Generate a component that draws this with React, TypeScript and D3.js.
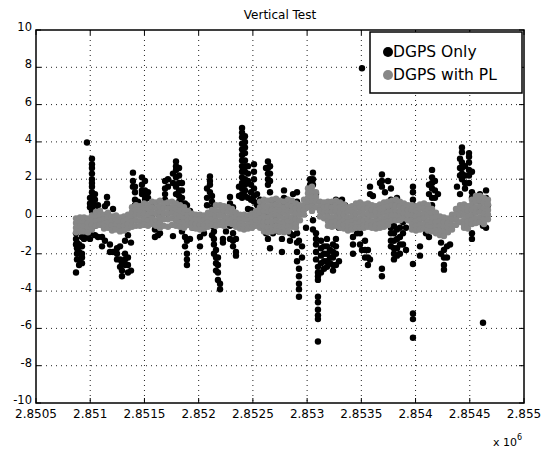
import React from "react";
import * as d3 from "d3";

// GPS time (s) tick values and their printed labels (x 10^6)
const xTickValues = [2850500, 2851000, 2851500, 2852000, 2852500, 2853000, 2853500, 2854000, 2854500, 2855000];
const xTickLabels = ["2.8505", "2.851", "2.8515", "2.852", "2.8525", "2.853", "2.8535", "2.854", "2.8545", "2.855"];
const yTickValues = [-10, -8, -6, -4, -2, 0, 2, 4, 6, 8, 10];

const seriesNames = ["DGPS Only", "DGPS with PL"];

// DGPS Only: [time, vertical errors (m) read at that time...]
const dgpsOnly: number[][] = [
  [2850869, -0.9, -1.2, -1.5, -3.0],
  [2850878, -1.4, -1.7, -2.0, -2.3],
  [2850897, -0.6, -1.5, -1.9, -2.3, -2.6],
  [2850924, -1.1, -1.6, -2.0, -2.2, -2.5],
  [2850943, -0.8, -1.2],
  [2850970, 3.97, -0.4, -1.0],
  [2850998, 1.0, 0.7, 0.5, -0.9, -1.2],
  [2851016, 3.1, 2.8, 2.6, 2.3, 2.0, 1.8, 1.6, 1.3, 1.05, 0.8, 0.5, 0.3],
  [2851044, 1.2, 0.9, 0.6, 0.2, -0.5, -1.0],
  [2851072, 0.6, 0.3, -0.2, -1.1],
  [2851109, -1.1, -1.6],
  [2851136, 0.55, -1.3],
  [2851155, 1.05, 0.7],
  [2851182, -1.9, -1.5],
  [2851210, 0.4, -1.9],
  [2851247, -1.7, -2.0, -2.3],
  [2851275, -1.6, -2.3, -2.7],
  [2851293, -2.5, -2.9, -3.2],
  [2851321, -1.3, -2.0, -2.3, -2.6],
  [2851348, -1.0, -2.2, -2.6, -3.0],
  [2851376, -1.4, -2.9],
  [2851394, 2.35, 1.9, 1.6],
  [2851413, 1.6, 1.3, 0.9, 0.6],
  [2851441, 0.8, 0.2],
  [2851477, 2.1, 1.7, 1.4, 1.2],
  [2851505, 1.9, 1.4, 1.1, 0.9, 0.5],
  [2851533, 1.3, 1.0, 0.6, 0.3, -0.2],
  [2851570, 0.6, 0.1, -0.3],
  [2851597, -0.3, -0.7, -1.1],
  [2851625, -0.5, -1.0],
  [2851643, 0.2, -0.2, -0.9],
  [2851690, 1.9, 1.5, 1.2, 0.9],
  [2851717, 2.0, 1.6, 0.5],
  [2851745, 0.3],
  [2851763, 2.3, 1.8, -1.05],
  [2851791, 2.95, 2.7, 2.5, 2.1, 1.6, 1.2],
  [2851819, 2.6, 2.2, 1.8, 1.4, 1.1, 0.8],
  [2851846, 1.8, 1.4, 1.0, 0.7, 0.4, -0.2, -0.8],
  [2851874, 0.7, 0.2, -0.5, -1.1, -1.6],
  [2851892, 0.6, -1.3, -2.0, -2.3, -2.6],
  [2851920, 0.3, -0.4, -1.2],
  [2851948, 0.0, -0.6],
  [2851975, -0.2],
  [2852012, -1.1, -1.6],
  [2852049, -0.9],
  [2852077, 1.5, 1.0, 0.6],
  [2852104, 2.15, 1.9, 1.7, 1.3],
  [2852123, 1.1, 0.8, 0.5, -0.5, -1.0],
  [2852141, -0.8, -1.2, -1.5, -2.0],
  [2852160, -1.8, -2.2, -2.5, -2.9],
  [2852178, -2.2, -2.6, -3.0, -3.4],
  [2852197, -3.6, -3.9],
  [2852224, -1.2, -1.4],
  [2852252, -0.3, -0.8],
  [2852289, 1.05, 0.7, -0.5, -1.2],
  [2852317, 0.5, -0.9, -1.3, -1.6],
  [2852344, -1.2, -1.9, -2.1],
  [2852372, 1.6, 1.1, 0.0],
  [2852400, 4.75, 4.5, 4.25, 3.9, 3.6, 3.3, 3.0, 2.7, 2.4, 2.1, 1.8, 1.5, 1.2, 1.0],
  [2852427, 4.3, 4.0, 3.7, 3.4, 3.0, 2.7, 2.4, 2.0, 1.7, 1.4, 1.1],
  [2852455, 2.7, 2.3, 1.9, 1.0, 0.4],
  [2852483, 1.7, 1.3, 0.9, 0.35],
  [2852510, 2.8, 2.4, 2.0, 1.5, 1.1, 0.8, -0.2],
  [2852538, 1.2, 0.6],
  [2852566, 0.9, 0.6, -0.1],
  [2852593, 0.3, -0.6],
  [2852621, 2.6, 0.0, -0.9],
  [2852639, 2.95, 2.6, 2.3, 2.0, 1.7, -0.5, -1.2],
  [2852658, 2.7, 2.3, 1.9, 1.3, 0.4, -0.3, -1.7],
  [2852685, 0.8, -0.4, -0.9],
  [2852713, 0.5, -0.2],
  [2852741, -0.5, -0.8],
  [2852768, -1.2, -1.9],
  [2852787, 1.4, 1.0, 0.6],
  [2852814, 0.9, 0.5, -0.7],
  [2852842, -0.9, -1.3],
  [2852870, 1.2, 0.7, -1.0],
  [2852907, 1.3, 0.8, -0.9, -1.4, -1.9, -2.4],
  [2852925, 0.2, -1.3, -2.8, -3.2, -3.6, -3.9, -4.3],
  [2852953, -1.6, -2.2],
  [2852990, -0.6],
  [2853027, 2.0, 1.7, 1.4, 0.9],
  [2853054, 2.35, 2.0, 1.7, 1.2, 0.5, -0.2, -0.7],
  [2853082, 1.2, -0.9, -1.2, -1.5, -1.9, -2.3],
  [2853100, -2.7, -3.0, -3.2, -3.4, -4.3, -4.6, -5.0, -5.3, -5.5, -6.7],
  [2853128, -1.3, -1.7, -2.1, -2.5, -3.0],
  [2853156, 0.5, -1.6, -2.0, -2.4, -2.8],
  [2853183, -1.2, -1.6, -2.0, -2.4, -2.7],
  [2853211, 0.6, 0.4, -1.8, -2.2, -2.5],
  [2853239, -1.5, -1.9, -2.2, -2.6, -2.9],
  [2853266, 0.9, -1.2, -1.6, -2.0, -2.6],
  [2853294, -0.6, -2.4],
  [2853322, 0.9, 0.2],
  [2853349, 0.6, -0.3],
  [2853377, 0.3, -0.6],
  [2853405, -0.2],
  [2853423, -1.1, -1.5, -2.0],
  [2853460, -0.9],
  [2853488, -0.2, -0.9, -1.5],
  [2853506, 7.95, -1.8],
  [2853534, -1.3, -1.8, -2.2],
  [2853561, -1.8, -2.2, -2.6],
  [2853580, 1.6, 1.2, -2.3],
  [2853607, 1.1],
  [2853644, 0.3],
  [2853672, 1.8],
  [2853690, 2.25, 1.9, 1.6, -2.8, -3.2],
  [2853718, 1.3],
  [2853746, 1.9, 0.5],
  [2853773, 1.5, 0.9, -0.2, -0.6, -0.9, -1.3, -1.6],
  [2853801, 0.6, -0.5, -0.9, -1.3, -1.7, -2.0, -2.3],
  [2853829, 1.0, -0.7, -1.2, -1.7, -2.1],
  [2853856, 0.1, -0.6, -1.1, -1.5, -2.0],
  [2853884, -0.3, -0.9, -1.5],
  [2853912, -0.6, -1.8],
  [2853949, -0.2],
  [2853976, 1.6, 1.3, 0.9, 0.6, 0.3, -2.55, -5.2, -5.5, -6.5],
  [2854004, 0.0],
  [2854041, -1.6, -2.1],
  [2854069, -0.6],
  [2854096, 0.5, -0.9],
  [2854124, 1.7, 1.2, -1.1],
  [2854152, 2.5, 2.1, 1.8, 1.5, 1.0, 0.6],
  [2854179, 1.9, 1.4, 1.0],
  [2854207, 1.2, -0.3],
  [2854235, -0.8, -1.4, -2.0],
  [2854262, -1.8, -2.2, -2.6, -2.85],
  [2854290, -1.6, -2.2],
  [2854318, -1.5],
  [2854382, 1.6],
  [2854410, 3.1, 2.6, 2.2, 1.2],
  [2854428, 3.7, 3.45, 2.9, 2.6, 2.3, 2.0],
  [2854456, 2.7, 2.2, 1.8, 1.5],
  [2854493, 3.4, 3.2, 2.9, 2.5, 2.2, 1.8],
  [2854520, 2.4, 1.3, 1.0, -0.9, -1.2],
  [2854548, 1.1, 0.3],
  [2854594, 1.2, 0.8, 0.4],
  [2854622, 0.8, -0.1, -0.5, -5.7],
  [2854650, 1.4, 1.0, 0.3, -0.6],
  [2854668, 0.6],
];

// DGPS with PL: [time, vertical errors (m) read at that time...]
const dgpsWithPL: number[][] = [
  [2850869, -0.1, -0.35, -0.6, -0.85],
  [2850906, -0.05, -0.3, -0.55, -0.8],
  [2850943, -0.05, -0.3, -0.55, -0.8],
  [2850979, -0.1, -0.35, -0.6, -0.85],
  [2851016, 0.05, -0.2, -0.45, -0.7],
  [2851053, 0.25, 0.0, -0.25, -0.5],
  [2851090, 0.3, 0.05, -0.2, -0.45],
  [2851127, 0.1, -0.15, -0.4, -0.65],
  [2851164, 0.2, -0.05, -0.3, -0.6],
  [2851201, 0.0, -0.25, -0.5, -0.75],
  [2851238, 0.05, -0.2, -0.45, -0.7],
  [2851275, -0.05, -0.3, -0.55, -0.8],
  [2851311, 0.0, -0.25, -0.5, -0.75],
  [2851348, 0.1, -0.15, -0.4, -0.65],
  [2851385, 0.5, 0.25, 0.0, -0.25, -0.55],
  [2851422, 0.6, 0.35, 0.1, -0.2, -0.5],
  [2851459, 0.55, 0.3, 0.05, -0.25, -0.5],
  [2851496, 0.7, 0.45, 0.15, -0.15, -0.45],
  [2851533, 0.65, 0.4, 0.1, -0.2, -0.5],
  [2851570, 0.8, 0.5, 0.2, -0.1, -0.4],
  [2851607, 0.75, 0.45, 0.15, -0.2, -0.5],
  [2851643, 0.85, 0.55, 0.25, -0.05, -0.35, -0.6],
  [2851680, 0.7, 0.45, 0.15, -0.15, -0.5],
  [2851717, 0.75, 0.45, 0.15, -0.15, -0.55],
  [2851754, 0.8, 0.5, 0.2, -0.1, -0.45],
  [2851791, 0.7, 0.4, 0.1, -0.2, -0.5],
  [2851828, 0.6, 0.3, 0.0, -0.3, -0.55],
  [2851865, 0.5, 0.2, -0.1, -0.35, -0.6],
  [2851902, 0.3, 0.05, -0.2, -0.45],
  [2851938, 0.15, -0.1, -0.35, -0.6],
  [2851975, 0.1, -0.15, -0.4, -0.65],
  [2852012, 0.1, -0.15, -0.45, -0.7],
  [2852049, 0.05, -0.2, -0.45, -0.65],
  [2852086, 0.2, -0.05, -0.3, -0.55],
  [2852123, 0.35, 0.1, -0.15, -0.45],
  [2852160, 0.6, 0.3, 0.0, -0.25, -0.5],
  [2852197, 0.6, 0.3, 0.05, -0.25, -0.45],
  [2852233, 0.55, 0.3, 0.0, -0.25, -0.5],
  [2852270, 0.5, 0.25, -0.05, -0.35],
  [2852307, 0.4, 0.15, -0.15, -0.4],
  [2852344, 0.2, -0.05, -0.3, -0.55],
  [2852381, 0.1, -0.15, -0.4, -0.65],
  [2852418, 0.1, -0.15, -0.45, -0.7],
  [2852455, 0.05, -0.2, -0.45, -0.65],
  [2852492, 0.15, -0.1, -0.35, -0.6],
  [2852529, 0.3, 0.05, -0.2, -0.5],
  [2852566, 0.8, 0.5, 0.2, -0.1, -0.4, -0.6],
  [2852602, 0.9, 0.6, 0.3, 0.0, -0.3, -0.55, -0.8],
  [2852639, 0.85, 0.55, 0.25, -0.05, -0.3, -0.6, -0.85],
  [2852676, 0.9, 0.6, 0.35, 0.05, -0.25, -0.55, -0.8],
  [2852713, 0.95, 0.65, 0.35, 0.1, -0.2, -0.5, -0.75],
  [2852750, 0.85, 0.55, 0.3, 0.0, -0.3, -0.55, -0.8],
  [2852787, 0.8, 0.5, 0.2, -0.1, -0.35, -0.6, -0.85],
  [2852824, 0.9, 0.6, 0.3, 0.0, -0.25, -0.55, -0.8],
  [2852861, 0.85, 0.55, 0.25, -0.05, -0.3, -0.55],
  [2852897, 0.7, 0.45, 0.15, -0.15, -0.4, -0.6],
  [2852934, 0.6, 0.35, 0.1, -0.2],
  [2852971, 0.9, 0.6, 0.35, 0.1],
  [2853008, 1.5, 1.25, 1.0, 0.75, 0.5],
  [2853045, 1.6, 1.35, 1.05, 0.8, 0.55, 0.3],
  [2853082, 1.3, 1.05, 0.8, 0.5],
  [2853119, 0.8, 0.55, 0.3, 0.0],
  [2853156, 0.75, 0.5, 0.2, -0.1],
  [2853192, 0.8, 0.55, 0.25, 0.0, -0.25, -0.5],
  [2853229, 0.8, 0.5, 0.25, -0.05, -0.3, -0.55],
  [2853266, 0.85, 0.6, 0.3, 0.0, -0.25, -0.5],
  [2853303, 0.75, 0.5, 0.2, -0.1, -0.35, -0.6],
  [2853340, 0.65, 0.4, 0.1, -0.2, -0.45, -0.65],
  [2853377, 0.5, 0.25, -0.05, -0.3, -0.55, -0.75],
  [2853414, 0.55, 0.3, 0.0, -0.25, -0.5, -0.7],
  [2853451, 0.7, 0.45, 0.15, -0.15, -0.4, -0.6],
  [2853488, 0.75, 0.5, 0.2, -0.1, -0.35, -0.6],
  [2853524, 0.65, 0.4, 0.1, -0.2, -0.45, -0.6],
  [2853561, 0.7, 0.45, 0.15, -0.15, -0.4, -0.55],
  [2853598, 0.6, 0.35, 0.05, -0.25, -0.45, -0.6],
  [2853635, 0.55, 0.3, 0.0, -0.25, -0.45, -0.65],
  [2853672, 0.65, 0.4, 0.1, -0.2, -0.4, -0.6],
  [2853709, 0.75, 0.5, 0.2, -0.1, -0.35, -0.55],
  [2853746, 0.8, 0.55, 0.25, 0.0, -0.25, -0.45],
  [2853783, 0.85, 0.6, 0.3, 0.05, -0.2],
  [2853819, 0.9, 0.6, 0.3, 0.05, -0.2],
  [2853856, 0.8, 0.55, 0.25, 0.0, -0.2],
  [2853893, 0.7, 0.45, 0.15, -0.1],
  [2853930, 0.6, 0.35, 0.1, -0.2],
  [2853967, 0.6, 0.35, 0.05, -0.2, -0.45, -0.7],
  [2854004, 0.55, 0.3, 0.0, -0.25, -0.5, -0.75],
  [2854041, 0.65, 0.4, 0.1, -0.15, -0.45, -0.7],
  [2854078, 0.7, 0.45, 0.15, -0.1, -0.4, -0.65],
  [2854115, 0.6, 0.35, 0.05, -0.25, -0.5, -0.75],
  [2854152, 0.4, 0.15, -0.1, -0.35, -0.6, -0.8],
  [2854188, 0.2, -0.05, -0.3, -0.55, -0.75, -0.9],
  [2854225, 0.0, -0.25, -0.5, -0.75, -1.0],
  [2854262, -0.05, -0.3, -0.55, -0.8, -1.05],
  [2854299, -0.1, -0.35, -0.6, -0.85],
  [2854336, 0.1, -0.15, -0.45, -0.7],
  [2854373, 0.4, 0.15, -0.15, -0.45],
  [2854410, 0.6, 0.35, 0.05, -0.3],
  [2854447, 0.65, 0.4, 0.1, -0.2, -0.45, -0.6],
  [2854483, 0.55, 0.3, 0.0, -0.25, -0.45, -0.65],
  [2854520, 0.9, 0.65, 0.35, 0.05, -0.2, -0.4],
  [2854557, 1.1, 0.8, 0.5, 0.2, -0.1, -0.35],
  [2854594, 1.1, 0.85, 0.55, 0.25, -0.05, -0.3],
  [2854631, 1.0, 0.75, 0.45, 0.15, -0.15, -0.4],
  [2854668, 0.9, 0.65, 0.35, 0.1, -0.15],
];

const W = 545;
const H = 450;
const PLOT = { left: 36, right: 524, top: 30, bottom: 403 };
const FONT = "'DejaVu Sans', Verdana, sans-serif";

function flatten(cols: number[][]) {
  const pts: { t: number; v: number }[] = [];
  cols.forEach((c) => {
    for (let i = 1; i < c.length; i++) pts.push({ t: c[0], v: c[i] });
  });
  return pts;
}

export default function App() {
  const x = d3.scaleLinear().domain([2850500, 2855000]).range([PLOT.left, PLOT.right]);
  const y = d3.scaleLinear().domain([-10, 10]).range([PLOT.bottom, PLOT.top]);

  const black = flatten(dgpsOnly);
  const gray = flatten(dgpsWithPL);
  const grayColor = "#878787";
  const r = 3.2;

  return (
    <svg width={W} height={H} style={{ position: "absolute", left: 0, top: 0, background: "#fff" }}>
      <rect x={0} y={0} width={W} height={H} fill="#fff" />
      {/* grid */}
      <g stroke="#222" strokeWidth={1} strokeDasharray="1,4">
        {xTickValues.slice(1, -1).map((t) => (
          <line key={"gx" + t} x1={x(t)} x2={x(t)} y1={PLOT.top} y2={PLOT.bottom} />
        ))}
        {yTickValues.slice(1, -1).map((v) => (
          <line key={"gy" + v} x1={PLOT.left} x2={PLOT.right} y1={y(v)} y2={y(v)} />
        ))}
      </g>
      {/* data */}
      <g fill="#000">
        {black.map((p, i) => (
          <circle key={"b" + i} cx={x(p.t)} cy={y(p.v)} r={r} />
        ))}
      </g>
      <g fill={grayColor}>
        {gray.map((p, i) => (
          <circle key={"g" + i} cx={x(p.t)} cy={y(p.v)} r={r} />
        ))}
      </g>
      {/* ticks inside */}
      <g stroke="#000" strokeWidth={1}>
        {xTickValues.map((t) => (
          <g key={"tx" + t}>
            <line x1={x(t)} x2={x(t)} y1={PLOT.bottom} y2={PLOT.bottom - 5} />
            <line x1={x(t)} x2={x(t)} y1={PLOT.top} y2={PLOT.top + 5} />
          </g>
        ))}
        {yTickValues.map((v) => (
          <g key={"ty" + v}>
            <line x1={PLOT.left} x2={PLOT.left + 5} y1={y(v)} y2={y(v)} />
            <line x1={PLOT.right} x2={PLOT.right - 5} y1={y(v)} y2={y(v)} />
          </g>
        ))}
      </g>
      <rect
        x={PLOT.left}
        y={PLOT.top}
        width={PLOT.right - PLOT.left}
        height={PLOT.bottom - PLOT.top}
        fill="none"
        stroke="#000"
        strokeWidth={1.5}
      />
      {/* tick labels */}
      <g fontFamily={FONT} fontSize={12} fill="#000">
        {xTickValues.map((t, i) => (
          <text key={"lx" + t} x={x(t)} y={PLOT.bottom + 15} textAnchor="middle">
            {xTickLabels[i]}
          </text>
        ))}
        {yTickValues.map((v) => (
          <text key={"ly" + v} x={PLOT.left - 4} y={y(v) + 1} textAnchor="end" fontSize={11.5}>
            {v}
          </text>
        ))}
        <text x={PLOT.right - 2} y={446} textAnchor="end" fontSize={11}>
          x 10
          <tspan dy={-6} fontSize={8}>6</tspan>
        </text>
      </g>
      <text x={(PLOT.left + PLOT.right) / 2} y={19} textAnchor="middle" fontFamily={FONT} fontSize={12}>
        Vertical Test
      </text>
      {/* legend */}
      <g>
        <rect x={370} y={32} width={152} height={61} fill="#fff" stroke="#000" strokeWidth={1.5} />
        <circle cx={388} cy={52} r={5} fill="#000" />
        <circle cx={388} cy={75} r={5} fill={grayColor} />
        <text x={393} y={57} fontFamily={FONT} fontSize={15.5}>
          {seriesNames[0]}
        </text>
        <text x={393} y={80} fontFamily={FONT} fontSize={15.5}>
          {seriesNames[1]}
        </text>
      </g>
    </svg>
  );
}
